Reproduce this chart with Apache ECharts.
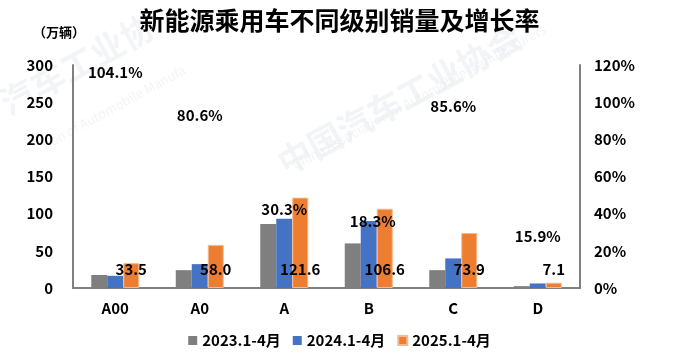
<!DOCTYPE html>
<html><head><meta charset="utf-8">
<script src="https://cdn.jsdelivr.net/npm/echarts@6/dist/echarts.min.js"></script>
<style>html,body{margin:0;padding:0;background:#fff}#c{width:679px;height:357px}</style>
</head><body><div id="c"></div>
<script>
const categories = ['A00', 'A0', 'A', 'B', 'C', 'D'];
const sales2023 = [17.5, 24, 86, 60, 24, 2.5];
const sales2024 = [16.4, 32.1, 93.3, 90.1, 39.8, 6.1];
const sales2025 = [33.5, 58.0, 121.6, 106.6, 73.9, 7.1];
const growth = [1.041, 0.806, 0.303, 0.183, 0.856, 0.159];
const seriesNames = ['2023.1-4月', '2024.1-4月', '2025.1-4月'];
const leftTicks = [0, 300, 50];
const rightTicks = [0, 1.2, 0.2];

const FONT = '"Noto Sans CJK SC", "Noto Sans", sans-serif';
const chart = echarts.init(document.getElementById('c'));
const txt = {fontFamily: FONT, fontWeight: 'bold', fontSize: 15, color: '#000'};
const wm = 'rgba(232,235,241,0.55)';
chart.setOption({
  animation: false,
  textStyle: {fontFamily: FONT},
  title: {text: '新能源乘用车不同级别销量及增长率', left: 'center', top: 3,
    textStyle: {fontFamily: FONT, fontWeight: 'bold', fontSize: 25, color: '#000'}},
  graphic: [
    {type: 'text', left: 33, top: 26, style: {text: '（万辆）', font: 'bold 13px ' + FONT, fill: '#000'}},
    {type: 'text', x: 272, y: 150, rotation: 0.5, silent: true, z: -1,
      style: {text: '中国汽车工业协会', font: 'bold 34px ' + FONT, fill: wm}},
    {type: 'text', x: 290, y: 160, rotation: 0.5, silent: true, z: -1,
      style: {text: 'China Association of Automobile Manufacturers', font: '13px ' + FONT, fill: wm}},
    {type: 'text', x: -5, y: 90, rotation: 0.5, silent: true, z: -1,
      style: {text: '汽车工业协', font: 'bold 34px ' + FONT, fill: wm}},
    {type: 'text', x: 40, y: 140, rotation: 0.5, silent: true, z: -1,
      style: {text: 'tion of Automobile Manufa', font: '13px ' + FONT, fill: wm}}
  ],
  legend: {bottom: 4, left: 'center', itemWidth: 9, itemHeight: 9, itemGap: 12,
    icon: 'rect', textStyle: txt, data: seriesNames},
  grid: {left: 73, right: 99, top: 65, bottom: 69},
  xAxis: {type: 'category', data: categories,
    axisLine: {lineStyle: {color: '#7f7f7f', width: 2}}, axisTick: {show: false},
    axisLabel: Object.assign({margin: 13}, txt)},
  yAxis: [
    {type: 'value', min: leftTicks[0], max: leftTicks[1], interval: leftTicks[2],
      splitLine: {show: false}, axisLine: {show: true, lineStyle: {color: '#7f7f7f', width: 2}},
      axisLabel: Object.assign({margin: 20}, txt)},
    {type: 'value', min: rightTicks[0], max: rightTicks[1], interval: rightTicks[2],
      splitLine: {show: false}, axisLine: {show: true, lineStyle: {color: '#7f7f7f', width: 2}},
      axisLabel: Object.assign({margin: 14, formatter: v => Math.round(v * 100) + '%'}, txt)}
  ],
  series: [
    {name: seriesNames[0], type: 'bar', data: sales2023, barWidth: 16, barGap: '0%',
      itemStyle: {color: '#7f7f7f'}},
    {name: seriesNames[1], type: 'bar', data: sales2024, barWidth: 16, barGap: '0%',
      itemStyle: {color: '#4472c4'}},
    {name: seriesNames[2], type: 'bar', data: sales2025, barWidth: 16, barGap: '0%',
      itemStyle: {color: '#ed7d31', borderColor: '#f6b98f', borderWidth: 1},
      label: Object.assign({show: true, position: 'insideBottom', distance: 11,
        formatter: p => p.value.toFixed(1)}, txt), z: 3},
    {name: '增长率', type: 'line', yAxisIndex: 1, symbol: 'circle', symbolSize: 2,
      showSymbol: true, itemStyle: {color: 'rgba(0,0,0,0)'}, lineStyle: {color: 'rgba(0,0,0,0)'}, z: 5,
      data: growth.map((v, i) => i === 3 ? {value: v, label: {offset: [4, -10]}} : v),
      label: Object.assign({show: true, position: 'top', distance: 14,
        formatter: p => (p.value * 100).toFixed(1) + '%'}, txt)}
  ]
});
</script></body></html>
